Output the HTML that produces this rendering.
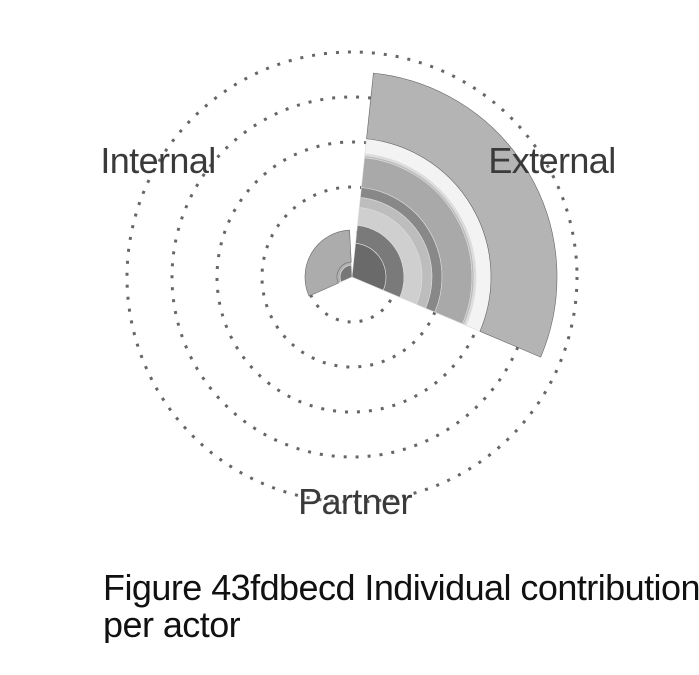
<!DOCTYPE html>
<html><head><meta charset="utf-8"><style>
html,body{margin:0;padding:0;background:#fff;width:699px;height:675px;overflow:hidden;position:relative}
svg{position:absolute;left:0;top:0}
.cap{position:absolute;left:103px;top:569px;font-family:"Liberation Sans",sans-serif;font-size:36px;line-height:37px;color:#111;letter-spacing:-0.55px;white-space:nowrap;width:596px;overflow:hidden}
</style></head><body>
<svg id="chart" width="699" height="675"></svg>
<div class="cap">Figure 43fdbecd Individual contributions<br>per actor</div>
<script>
const categories = ["External", "Partner", "Internal"];
const startAngles = [6, 126, 246];
const endAngles = [113, 234, 357];
const externalLayers = [34, 18, 18, 10, 10, 30, 2, 2, 15, 66];
const partnerLayers = [0];
const internalLayers = [12, 3, 32];
const externalColors = ["#6a6a6a","#7a7a7a","#cfcfcf","#bdbdbd","#888888","#a9a9a9","#bcbcbc","#dcdcdc","#f3f3f3","#b4b4b4"];
const internalColors = ["#777777","#b0b0b0","#acacac"];
const gridTicks = [1, 2, 3, 4, 5];
const layersByCat = [externalLayers, partnerLayers, internalLayers];
const colorsByCat = [externalColors, ["#999"], internalColors];

const cx = 352, cy = 277, tickUnit = 45;
const rScale = v => v;
const gScale = t => t * tickUnit;
const svg = document.getElementById('chart');
const NS = "http://www.w3.org/2000/svg";
function pt(r, a){ const rad = a*Math.PI/180; return [cx + r*Math.sin(rad), cy - r*Math.cos(rad)]; }
function arcPath(r0, r1, a0, a1){
  const large = (a1-a0) > 180 ? 1 : 0;
  const [x0,y0]=pt(r1,a0),[x1,y1]=pt(r1,a1),[x2,y2]=pt(r0,a1),[x3,y3]=pt(r0,a0);
  if (r0 <= 0) return `M${cx},${cy}L${x0},${y0}A${r1},${r1} 0 ${large} 1 ${x1},${y1}Z`;
  return `M${x0},${y0}A${r1},${r1} 0 ${large} 1 ${x1},${y1}L${x2},${y2}A${r0},${r0} 0 ${large} 0 ${x3},${y3}Z`;
}
gridTicks.forEach((t,i)=>{
  const c = document.createElementNS(NS,'circle');
  
  
  c.setAttribute('cx', cx); c.setAttribute('cy', cy); c.setAttribute('r', gScale(t));
  c.setAttribute('fill','none'); c.setAttribute('stroke','#666'); c.setAttribute('stroke-width','3');
  c.setAttribute('stroke-dasharray','3 9');
  svg.appendChild(c);
});
categories.forEach((cat,ci)=>{
  let acc = 0;
  layersByCat[ci].forEach((v,li)=>{
    if (v <= 0) return;
    const p = document.createElementNS(NS,'path');
    
    
    p.setAttribute('d', arcPath(rScale(acc), rScale(acc+v), startAngles[ci], endAngles[ci]));
    p.setAttribute('fill', colorsByCat[ci][li]);
    p.setAttribute('stroke', li === layersByCat[ci].length-1 ? '#666' : '#ddd');
    p.setAttribute('stroke-width', '0.6');
    svg.appendChild(p);
    acc += v;
  });
});
const labelPos = [[552,173],[355,514],[158,173]];
categories.forEach((cat,ci)=>{
  const t = document.createElementNS(NS,'text');
  
  
  t.setAttribute('x', labelPos[ci][0]); t.setAttribute('y', labelPos[ci][1]);
  t.setAttribute('text-anchor','middle'); t.setAttribute('font-family','Liberation Sans, sans-serif');
  t.setAttribute('font-size','36'); t.setAttribute('fill','#3a3a3a');
  t.setAttribute('letter-spacing','-0.6');
  t.textContent = cat;
  svg.appendChild(t);
});
</script>
</body></html>
